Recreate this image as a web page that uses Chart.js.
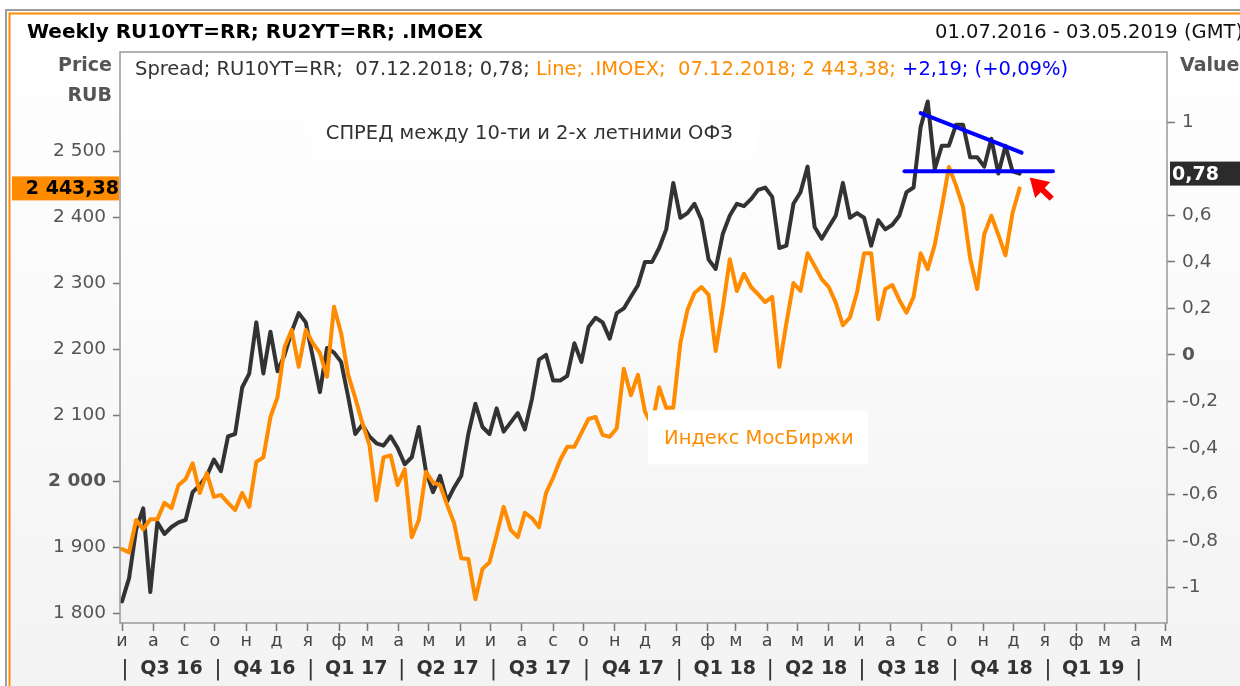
<!DOCTYPE html>
<html>
<head>
<meta charset="utf-8">
<script src="https://cdn.jsdelivr.net/npm/chart.js@4.4.1/dist/chart.umd.min.js"></script>
<style>
  html, body { margin: 0; padding: 0; background: #fff; overflow: hidden; }
  #wrap { width: 1240px; height: 686px; position: relative; }
</style>
</head>
<body>
<div id="wrap"><canvas id="chart" width="1240" height="686"></canvas></div>
<script>
// weekly closes, first week 01.07.2016, last 07.12.2018
const startDate = Date.UTC(2016, 6, 1);

// RU10YT=RR minus RU2YT=RR, percentage points (right axis)
const spread = [
  -1.06, -0.96, -0.75, -0.66, -1.02, -0.72, -0.77, -0.74, -0.72, -0.71,
  -0.59, -0.56, -0.52, -0.45, -0.50, -0.35, -0.34, -0.14, -0.08, 0.14,
  -0.08, 0.10, -0.07, 0.00, 0.10, 0.18, 0.14, -0.01, -0.16, 0.03,
  0.01, -0.03, -0.18, -0.34, -0.30, -0.35, -0.38, -0.39, -0.35, -0.40,
  -0.47, -0.44, -0.31, -0.50, -0.59, -0.52, -0.63, -0.57, -0.52, -0.34,
  -0.21, -0.31, -0.34, -0.23, -0.33, -0.29, -0.25, -0.32, -0.19, -0.02,
  0.00, -0.11, -0.11, -0.09, 0.05, -0.03, 0.12, 0.16, 0.14, 0.07,
  0.18, 0.20, 0.25, 0.30, 0.40, 0.40, 0.46, 0.54, 0.74, 0.59,
  0.61, 0.65, 0.58, 0.41, 0.37, 0.52, 0.60, 0.65, 0.64, 0.67,
  0.71, 0.72, 0.68, 0.46, 0.47, 0.65, 0.70, 0.81, 0.55, 0.50,
  0.55, 0.60, 0.74, 0.59, 0.61, 0.59, 0.47, 0.58, 0.54, 0.56,
  0.60, 0.70, 0.72, 0.98, 1.09, 0.80, 0.90, 0.90, 0.99, 0.99,
  0.85, 0.85, 0.81, 0.93, 0.78, 0.90, 0.79, 0.78
];

// .IMOEX weekly close, RUB (left axis)
const imoex = [
  1897, 1892, 1941, 1927, 1942, 1942, 1967, 1959, 1994, 2003,
  2027, 1982, 2012, 1976, 1979, 1967, 1956, 1982, 1961, 2029,
  2036, 2097, 2127, 2203, 2229, 2173, 2229, 2209, 2194, 2158,
  2264, 2224, 2161, 2126, 2088, 2055, 1971, 2036, 2039, 1994,
  2018, 1915, 1941, 2014, 1998, 1994, 1964, 1936, 1883, 1882,
  1821, 1867, 1877, 1918, 1961, 1926, 1915, 1952, 1944, 1930,
  1982, 2005, 2032, 2052, 2052, 2073, 2094, 2097, 2070, 2067,
  2080, 2170, 2130, 2161, 2105, 2085, 2142, 2111, 2111, 2209,
  2259, 2285, 2294, 2282, 2197, 2262, 2336, 2288, 2314, 2294,
  2283, 2271, 2279, 2173, 2239, 2300, 2288, 2345, 2326, 2306,
  2294, 2270, 2236, 2248, 2286, 2345, 2345, 2245, 2291, 2297,
  2274, 2255, 2279, 2345, 2321, 2358, 2415, 2476, 2448, 2415,
  2338, 2291, 2374, 2402, 2373, 2342, 2406, 2443.38
];

const leftTicks = [1800, 1900, 2000, 2100, 2200, 2300, 2400, 2500];
const rightTicks = [-1, -0.8, -0.6, -0.4, -0.2, 0, 0.2, 0.4, 0.6, 1];
const monthLetters = ['я', 'ф', 'м', 'а', 'м', 'и', 'и', 'а', 'с', 'о', 'н', 'д'];
const quarterLabels = ['Q3 16', 'Q4 16', 'Q1 17', 'Q2 17', 'Q3 17', 'Q4 17', 'Q1 18', 'Q2 18', 'Q3 18', 'Q4 18', 'Q1 19'];

// blue hand-drawn lines on the spread: [day, value]
const supportLine = [[775, 0.79], [922, 0.79]];
const trendLine = [[791, 1.04], [891, 0.87]];

const FONT = "'DejaVu Sans', sans-serif";
const ORANGE = '#ff8c00';
const DARK = '#333333';

const dayOf = (y, m, d) => (Date.UTC(y, m, d || 1) - startDate) / 864e5;

const monthTicks = [];
for (let y = 2016, m = 6; y < 2019 || m <= 4; ) {
  monthTicks.push({ value: dayOf(y, m), m });
  m++;
  if (m > 11) { m = 0; y++; }
}
const letterAt = {};
monthTicks.forEach(t => { letterAt[t.value] = monthLetters[t.m]; });
const quarterStarts = monthTicks.filter(t => t.m % 3 === 0).map(t => t.value);

const spreadPts = spread.map((v, i) => ({ x: i * 7, y: v }));
const imoexPts = imoex.map((v, i) => ({ x: i * 7, y: v }));

const fmtLeft = v => String(v).replace(/\B(?=(\d{3})+$)/, ' ');
const fmtRight = v => {
  const r = Math.round(v * 10) / 10;
  return Number.isInteger(r) ? String(r) : r.toFixed(1).replace('.', ',');
};

const backdrop = {
  id: 'backdrop',
  beforeDraw(chart) {
    const { ctx, chartArea: a, width, height } = chart;
    ctx.save();
    ctx.fillStyle = '#ffffff';
    ctx.fillRect(0, 0, width, height);
    let g = ctx.createLinearGradient(0, 40, 0, height);
    g.addColorStop(0, '#ffffff');
    g.addColorStop(1, '#f3f3f3');
    ctx.fillStyle = g;
    ctx.fillRect(10, 14, width - 10, height - 14);
    g = ctx.createLinearGradient(0, a.top, 0, a.bottom);
    g.addColorStop(0, '#ffffff');
    g.addColorStop(0.45, '#fbfbfb');
    g.addColorStop(1, '#f2f2f2');
    ctx.fillStyle = g;
    ctx.fillRect(a.left, a.top, a.right - a.left, a.bottom - a.top);
    // outer frame
    ctx.lineWidth = 2;
    ctx.strokeStyle = '#9c9c9c';
    ctx.beginPath();
    ctx.moveTo(6, height); ctx.lineTo(6, 10); ctx.lineTo(width, 10);
    ctx.stroke();
    ctx.strokeStyle = ORANGE;
    ctx.beginPath();
    ctx.moveTo(9.5, height); ctx.lineTo(9.5, 13.5); ctx.lineTo(width, 13.5);
    ctx.stroke();
    ctx.restore();
  }
};

function textBox(ctx, x, y, w, h, text, color, size) {
  ctx.fillStyle = '#ffffff';
  ctx.fillRect(x, y, w, h);
  ctx.fillStyle = color;
  ctx.font = size + 'px ' + FONT;
  ctx.textAlign = 'left';
  ctx.textBaseline = 'middle';
  ctx.fillText(text, x + 16, y + h / 2 + 1);
}

const overlay = {
  id: 'overlay',
  afterDatasetsDraw(chart) {
    const { ctx, chartArea: a } = chart;
    const sx = chart.scales.x, sy = chart.scales.y;
    ctx.save();
    textBox(ctx, sx.getPixelForValue(186), sy.getPixelForValue(2565), 445, 50,
      'СПРЕД между 10-ти и 2-х летними ОФЗ', DARK, 19.5);
    textBox(ctx, sx.getPixelForValue(521), sy.getPixelForValue(2107), 220, 54,
      'Индекс МосБиржи', ORANGE, 19.5);
    ctx.strokeStyle = '#999999';
    ctx.lineWidth = 1.5;
    ctx.strokeRect(a.left, a.top, a.right - a.left, a.bottom - a.top);
    ctx.restore();
  },
  afterDraw(chart) {
    const { ctx, chartArea: a, width } = chart;
    const sx = chart.scales.x, sy = chart.scales.y, sy1 = chart.scales.y1;
    ctx.save();
    ctx.textBaseline = 'middle';

    // header
    ctx.fillStyle = '#000';
    ctx.font = 'bold 20px ' + FONT;
    ctx.textAlign = 'left';
    ctx.fillText('Weekly RU10YT=RR; RU2YT=RR; .IMOEX', 27, 33);
    ctx.font = '19.5px ' + FONT;
    ctx.fillStyle = '#111';
    ctx.fillText('01.07.2016 - 03.05.2019 (GMT)', 935, 33);

    ctx.fillStyle = '#555';
    ctx.font = 'bold 19px ' + FONT;
    ctx.textAlign = 'right';
    ctx.fillText('Price', a.left - 8, 66);
    ctx.fillText('RUB', a.left - 8, 96);
    ctx.textAlign = 'left';
    ctx.fillText('Value', a.right + 13, 66);

    // legend line
    ctx.font = '19.5px ' + FONT;
    let x = a.left + 15;
    const parts = [
      ['Spread; RU10YT=RR;  07.12.2018; 0,78; ', '#333'],
      ['Line; .IMOEX;  07.12.2018; 2 443,38; ', ORANGE],
      ['+2,19; (+0,09%)', '#0000ff']
    ];
    parts.forEach(([t, c]) => {
      ctx.fillStyle = c;
      ctx.fillText(t, x, 70);
      x += ctx.measureText(t).width;
    });

    // last value flags
    const lastL = imoex[imoex.length - 1];
    const yl = sy.getPixelForValue(lastL);
    ctx.fillStyle = ORANGE;
    ctx.fillRect(12, yl - 12, a.left - 13, 24);
    ctx.fillStyle = '#000';
    ctx.font = 'bold 19px ' + FONT;
    ctx.textAlign = 'right';
    ctx.fillText('2 443,38', a.left - 1, yl + 1);

    const lastR = spread[spread.length - 1];
    const yr = sy1.getPixelForValue(lastR);
    ctx.fillStyle = '#2b2b2b';
    ctx.fillRect(a.right + 3, yr - 12, width - a.right, 24);
    ctx.fillStyle = '#fff';
    ctx.textAlign = 'left';
    ctx.fillText('0,78', a.right + 5, yr + 1);

    // quarter row
    ctx.fillStyle = '#333';
    const qy = 669;
    quarterStarts.forEach((q, i) => {
      const px = sx.getPixelForValue(q) + 3;
      ctx.textAlign = 'center';
      ctx.font = '22px ' + FONT;
      ctx.fillText('|', px, qy);
      if (i < quarterLabels.length) {
        const nx = sx.getPixelForValue(quarterStarts[i + 1]) + 3;
        ctx.font = 'bold 19px ' + FONT;
        ctx.fillText(quarterLabels[i], (px + nx) / 2, qy);
      }
    });

    // red arrow pointing at the last spread value
    const lastDay = (spread.length - 1) * 7;
    const tipX = sx.getPixelForValue(lastDay + 10), tipY = sy1.getPixelForValue(lastR) + 4;
    const tailX = tipX + 22, tailY = tipY + 21;
    const len = Math.hypot(tailX - tipX, tailY - tipY);
    const ux = (tailX - tipX) / len, uy = (tailY - tipY) / len;
    ctx.strokeStyle = '#ff0000';
    ctx.fillStyle = '#ff0000';
    ctx.lineWidth = 6;
    ctx.beginPath();
    ctx.moveTo(tipX + ux * 12, tipY + uy * 12);
    ctx.lineTo(tailX, tailY);
    ctx.stroke();
    ctx.beginPath();
    ctx.moveTo(tipX, tipY);
    ctx.lineTo(tipX + ux * 18 - uy * 11, tipY + uy * 18 + ux * 11);
    ctx.lineTo(tipX + ux * 18 + uy * 11, tipY + uy * 18 - ux * 11);
    ctx.closePath();
    ctx.fill();
    ctx.restore();
  }
};

new Chart(document.getElementById('chart'), {
  type: 'line',
  data: {
    datasets: [
      {
        label: 'support', yAxisID: 'y1', order: 0,
        data: supportLine.map(([x, y]) => ({ x, y })),
        borderColor: '#0000ff', borderWidth: 4
      },
      {
        label: 'trend', yAxisID: 'y1', order: 0,
        data: trendLine.map(([x, y]) => ({ x, y })),
        borderColor: '#0000ff', borderWidth: 4
      },
      {
        label: '.IMOEX', yAxisID: 'y', order: 1,
        data: imoexPts,
        borderColor: ORANGE, borderWidth: 4
      },
      {
        label: 'Spread', yAxisID: 'y1', order: 2,
        data: spreadPts,
        borderColor: DARK, borderWidth: 4
      }
    ]
  },
  options: {
    responsive: false,
    animation: false,
    devicePixelRatio: 1,
    layout: { padding: { top: 52, left: 0, right: 0, bottom: 0 } },
    elements: {
      point: { radius: 0 },
      line: { tension: 0, borderJoinStyle: 'round', borderCapStyle: 'round' }
    },
    plugins: { legend: { display: false }, tooltip: { enabled: false } },
    scales: {
      x: {
        type: 'linear',
        min: -2,
        max: 1035,
        afterBuildTicks: s => { s.ticks = monthTicks.map(t => ({ value: t.value })); },
        afterFit: s => { s.height = 63; },
        grid: { drawOnChartArea: false, drawTicks: true, tickLength: 8, tickColor: '#777', tickWidth: 1.5 },
        border: { display: false },
        ticks: {
          autoSkip: false, maxRotation: 0, padding: 0, color: '#444',
          font: { family: FONT, size: 17.5 },
          callback: v => letterAt[v] || ''
        }
      },
      y: {
        position: 'left',
        min: 1785,
        max: 2650,
        afterBuildTicks: s => { s.ticks = leftTicks.map(v => ({ value: v })); },
        afterFit: s => { s.width = 120; },
        grid: { drawOnChartArea: false, tickLength: 7, tickColor: '#777', tickWidth: 1.5 },
        border: { display: false },
        ticks: {
          padding: 7, color: '#555',
          font: c => ({ family: FONT, size: 18.5, weight: c.tick && c.tick.value === 2000 ? 'bold' : 'normal' }),
          callback: v => fmtLeft(v)
        }
      },
      y1: {
        position: 'right',
        min: -1.153,
        max: 1.303,
        afterBuildTicks: s => { s.ticks = rightTicks.map(v => ({ value: v })); },
        afterFit: s => { s.width = 73; },
        grid: { drawOnChartArea: false, tickLength: 8, tickColor: '#777', tickWidth: 1.5 },
        border: { display: false },
        ticks: {
          padding: 7, color: '#555',
          font: c => ({ family: FONT, size: 18.5, weight: c.tick && c.tick.value === 0 ? 'bold' : 'normal' }),
          callback: v => fmtRight(v)
        }
      }
    }
  },
  plugins: [backdrop, overlay]
});
</script>
</body>
</html>
